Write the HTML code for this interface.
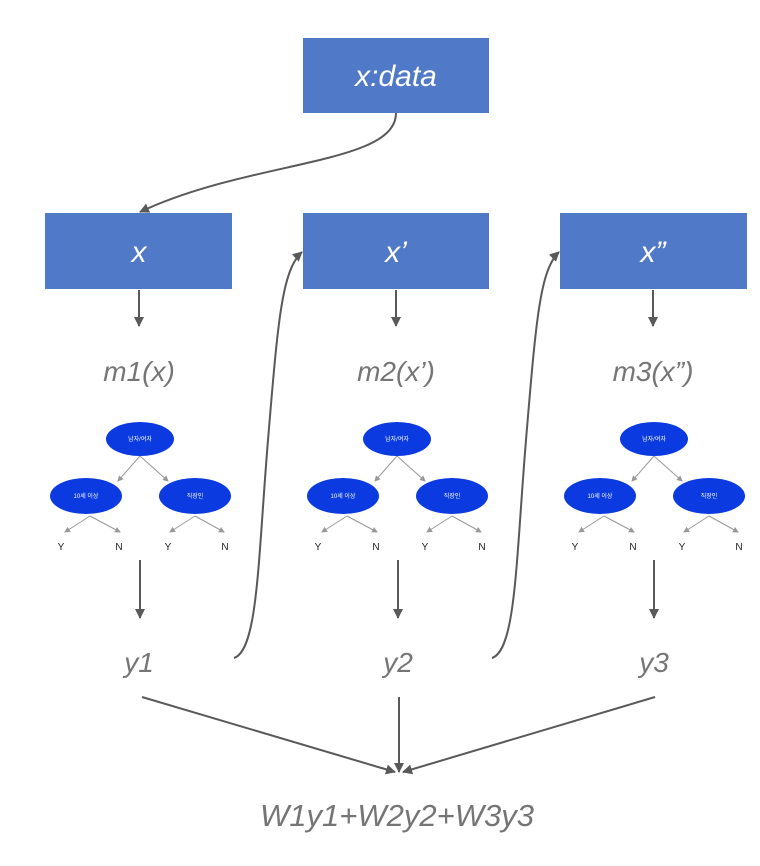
<!DOCTYPE html>
<html><head><meta charset="utf-8"><style>
html,body{margin:0;padding:0;background:#fff;}
svg{display:block;}
.lbl{font-family:"Liberation Sans",sans-serif;font-style:italic;fill:#757575;}
.bx{font-family:"Liberation Sans",sans-serif;font-style:italic;fill:#fff;font-size:30px;}
.kt{font-family:"Liberation Sans","Noto Sans CJK KR",sans-serif;fill:#fff;font-size:6px;}
.yn{font-family:"Liberation Sans",sans-serif;fill:#222;font-size:10px;}
</style></head><body>
<svg width="760" height="866" viewBox="0 0 760 866" xmlns="http://www.w3.org/2000/svg">
<defs>
<marker id="a" markerWidth="10" markerHeight="10" refX="9" refY="5" orient="auto" markerUnits="userSpaceOnUse" viewBox="0 0 10 10"><path d="M0,0L10,5L0,10z" fill="#595959"/></marker>
<marker id="s" markerWidth="6" markerHeight="6" refX="5" refY="3" orient="auto" markerUnits="userSpaceOnUse" viewBox="0 0 6 6"><path d="M0,0L6,3L0,6z" fill="#999"/></marker>
</defs>
<rect x="303" y="38" width="186" height="75" fill="#5079c8"/>
<text x="396" y="86" text-anchor="middle" class="bx">x:data</text>
<rect x="45" y="213" width="187" height="76" fill="#5079c8"/>
<text x="139" y="262" text-anchor="middle" class="bx">x</text>
<rect x="303" y="213" width="186" height="76" fill="#5079c8"/>
<text x="396" y="262" text-anchor="middle" class="bx">x’</text>
<rect x="560" y="213" width="187" height="76" fill="#5079c8"/>
<text x="653" y="262" text-anchor="middle" class="bx">x”</text>

<g stroke="#595959" stroke-width="2" fill="none" marker-end="url(#a)">
<path d="M396,113 C396,165 250,160 140,212"/>
<path d="M139,290 L139,326"/>
<path d="M396,290 L396,326"/>
<path d="M653,290 L653,326"/>
<path d="M140,560 L140,618"/>
<path d="M398,560 L398,618"/>
<path d="M654,560 L654,618"/>
<path d="M234,658 C258,650 258,560 268,440 C278,320 282,270 302,252"/>
<path d="M492,658 C516,650 516,560 526,440 C536,320 540,270 559,252"/>
<path d="M142,697 L395,772"/>
<path d="M399,697 L399,772"/>
<path d="M655,697 L403,772"/>
</g>

<text x="139" y="381" text-anchor="middle" class="lbl" font-size="28">m1(x)</text>
<text x="396" y="381" text-anchor="middle" class="lbl" font-size="28">m2(x’)</text>
<text x="653" y="381" text-anchor="middle" class="lbl" font-size="28">m3(x”)</text>
<text x="139" y="672" text-anchor="middle" class="lbl" font-size="28">y1</text>
<text x="398" y="672" text-anchor="middle" class="lbl" font-size="28">y2</text>
<text x="654" y="672" text-anchor="middle" class="lbl" font-size="28">y3</text>
<text x="397" y="826" text-anchor="middle" class="lbl" font-size="31">W1y1+W2y2+W3y3</text>

<g id="t1" transform="translate(0,0)">
<g stroke="#999" stroke-width="1" marker-end="url(#s)">
<line x1="140" y1="456" x2="118" y2="481"/><line x1="140" y1="456" x2="168" y2="481"/>
<line x1="90" y1="516" x2="65" y2="532"/><line x1="90" y1="516" x2="120" y2="532"/>
<line x1="195" y1="516" x2="170" y2="532"/><line x1="195" y1="516" x2="224" y2="532"/>
</g>
<ellipse cx="140" cy="439" rx="34" ry="17" fill="#0a3ae0"/>
<ellipse cx="86" cy="496" rx="36" ry="18" fill="#0a3ae0"/>
<ellipse cx="195" cy="496" rx="36" ry="18" fill="#0a3ae0"/>
<text x="140" y="441" text-anchor="middle" class="kt">남자/여자</text>
<text x="86" y="498" text-anchor="middle" class="kt">10세 이상</text>
<text x="195" y="498" text-anchor="middle" class="kt">직장인</text>
<text x="61" y="550" text-anchor="middle" class="yn">Y</text>
<text x="119" y="550" text-anchor="middle" class="yn">N</text>
<text x="168" y="550" text-anchor="middle" class="yn">Y</text>
<text x="225" y="550" text-anchor="middle" class="yn">N</text>
</g>
<g transform="translate(257,0)">
<g stroke="#999" stroke-width="1" marker-end="url(#s)">
<line x1="140" y1="456" x2="118" y2="481"/><line x1="140" y1="456" x2="168" y2="481"/>
<line x1="90" y1="516" x2="65" y2="532"/><line x1="90" y1="516" x2="120" y2="532"/>
<line x1="195" y1="516" x2="170" y2="532"/><line x1="195" y1="516" x2="224" y2="532"/>
</g>
<ellipse cx="140" cy="439" rx="34" ry="17" fill="#0a3ae0"/>
<ellipse cx="86" cy="496" rx="36" ry="18" fill="#0a3ae0"/>
<ellipse cx="195" cy="496" rx="36" ry="18" fill="#0a3ae0"/>
<text x="140" y="441" text-anchor="middle" class="kt">남자/여자</text>
<text x="86" y="498" text-anchor="middle" class="kt">10세 이상</text>
<text x="195" y="498" text-anchor="middle" class="kt">직장인</text>
<text x="61" y="550" text-anchor="middle" class="yn">Y</text>
<text x="119" y="550" text-anchor="middle" class="yn">N</text>
<text x="168" y="550" text-anchor="middle" class="yn">Y</text>
<text x="225" y="550" text-anchor="middle" class="yn">N</text>
</g>
<g transform="translate(514,0)">
<g stroke="#999" stroke-width="1" marker-end="url(#s)">
<line x1="140" y1="456" x2="118" y2="481"/><line x1="140" y1="456" x2="168" y2="481"/>
<line x1="90" y1="516" x2="65" y2="532"/><line x1="90" y1="516" x2="120" y2="532"/>
<line x1="195" y1="516" x2="170" y2="532"/><line x1="195" y1="516" x2="224" y2="532"/>
</g>
<ellipse cx="140" cy="439" rx="34" ry="17" fill="#0a3ae0"/>
<ellipse cx="86" cy="496" rx="36" ry="18" fill="#0a3ae0"/>
<ellipse cx="195" cy="496" rx="36" ry="18" fill="#0a3ae0"/>
<text x="140" y="441" text-anchor="middle" class="kt">남자/여자</text>
<text x="86" y="498" text-anchor="middle" class="kt">10세 이상</text>
<text x="195" y="498" text-anchor="middle" class="kt">직장인</text>
<text x="61" y="550" text-anchor="middle" class="yn">Y</text>
<text x="119" y="550" text-anchor="middle" class="yn">N</text>
<text x="168" y="550" text-anchor="middle" class="yn">Y</text>
<text x="225" y="550" text-anchor="middle" class="yn">N</text>
</g>
</svg>
</body></html>
